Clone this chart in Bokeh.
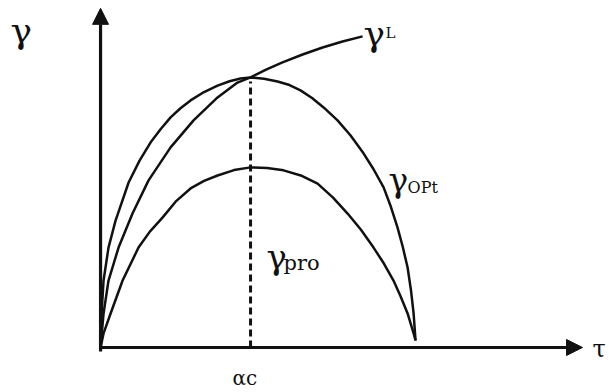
from bokeh.plotting import figure
from bokeh.models import Range1d, Label, Arrow, NormalHead
from bokeh.embed import file_html
from bokeh.resources import INLINE

# Schematic curves: x in units of the critical angle alpha_c, y in units of peak gamma_opt
opt_x = [0.0, 0.007, 0.020, 0.053, 0.100, 0.187, 0.260, 0.333, 0.400, 0.467, 0.533,
         0.600, 0.690, 0.780, 0.860, 0.933, 1.0, 1.09, 1.18, 1.26, 1.333, 1.41, 1.487,
         1.58, 1.667, 1.753, 1.82, 1.887, 1.935, 1.98, 2.015, 2.047, 2.07, 2.087, 2.10]
opt_y = [0.0, 0.126, 0.248, 0.370, 0.470, 0.611, 0.692, 0.759, 0.808, 0.852, 0.886,
         0.915, 0.946, 0.970, 0.986, 0.996, 1.0, 0.995, 0.985, 0.972, 0.952, 0.924, 0.889,
         0.841, 0.785, 0.719, 0.660, 0.593, 0.522, 0.444, 0.372, 0.296, 0.210, 0.126, 0.026]

lim_x = [0.0, 0.020, 0.053, 0.120, 0.213, 0.320, 0.467, 0.620, 0.780, 0.913, 1.0,
         1.107, 1.213, 1.347, 1.48, 1.613, 1.747]
lim_y = [0.0, 0.126, 0.248, 0.370, 0.496, 0.619, 0.741, 0.841, 0.926, 0.981, 1.0,
         1.030, 1.056, 1.085, 1.111, 1.133, 1.152]

pro_x = [0.0, 0.020, 0.067, 0.147, 0.253, 0.330, 0.413, 0.500, 0.600, 0.690, 0.780,
         0.890, 1.0, 1.11, 1.22, 1.335, 1.447, 1.55, 1.647, 1.735, 1.82, 1.89, 1.953,
         2.0, 2.047, 2.087, 2.10]
pro_y = [0.0, 0.052, 0.126, 0.248, 0.370, 0.430, 0.481, 0.540, 0.589, 0.617, 0.637,
         0.657, 0.667, 0.665, 0.656, 0.637, 0.607, 0.555, 0.496, 0.437, 0.370, 0.310,
         0.248, 0.190, 0.126, 0.052, 0.026]

alpha_c = 1.0
x_axis_end = 3.213
y_axis_end = 1.256

p = figure(width=609, height=392, output_backend="svg", toolbar_location=None,
           x_range=Range1d(-0.667, 3.393), y_range=Range1d(-0.1667, 1.285),
           min_border=0, min_border_left=0, min_border_right=0,
           min_border_top=0, min_border_bottom=0)
p.axis.visible = False
p.grid.visible = False
p.outline_line_color = None
p.background_fill_color = "white"
p.border_fill_color = "white"

ink = "#111111"

# coordinate axes with arrow heads
p.add_layout(Arrow(end=NormalHead(size=16, fill_color=ink, line_color=ink),
                   x_start=0, y_start=-0.015, x_end=0, y_end=y_axis_end,
                   line_width=3.2, line_color=ink))
p.add_layout(Arrow(end=NormalHead(size=16, fill_color=ink, line_color=ink),
                   x_start=-0.01, y_start=0, x_end=x_axis_end, y_end=0,
                   line_width=3.2, line_color=ink))

# curves
p.line(opt_x, opt_y, line_width=2.5, line_color=ink, line_join="round")
p.line(lim_x, lim_y, line_width=2.5, line_color=ink, line_join="round")
p.line(pro_x, pro_y, line_width=2.5, line_color=ink, line_join="round")

# dashed marker at alpha_c
p.segment(x0=[alpha_c], y0=[0.0], x1=[alpha_c], y1=[0.985],
          line_width=3, line_color=ink, line_dash="7 4")

FONT = "DejaVu Serif"

def lbl(x, y, t, size):
    p.add_layout(Label(x=x, y=y, text=t, text_font=FONT,
                       text_font_size=size, text_color=ink,
                       text_baseline="alphabetic", text_align="left"))

lbl(-0.6, 1.173, "γ", "36px")
lbl(1.753, 1.161, "γ", "36px")
lbl(1.90, 1.165, "L", "15px")
lbl(1.92, 0.619, "γ", "33px")
lbl(2.047, 0.592, "OPt", "16px")
lbl(1.107, 0.336, "γ", "34px")
lbl(1.22, 0.314, "pro", "21px")
lbl(0.88, -0.113, "αc", "20px")
lbl(3.28, -0.006, "τ", "24px")

open("out.html", "w").write(file_html(p, INLINE))
